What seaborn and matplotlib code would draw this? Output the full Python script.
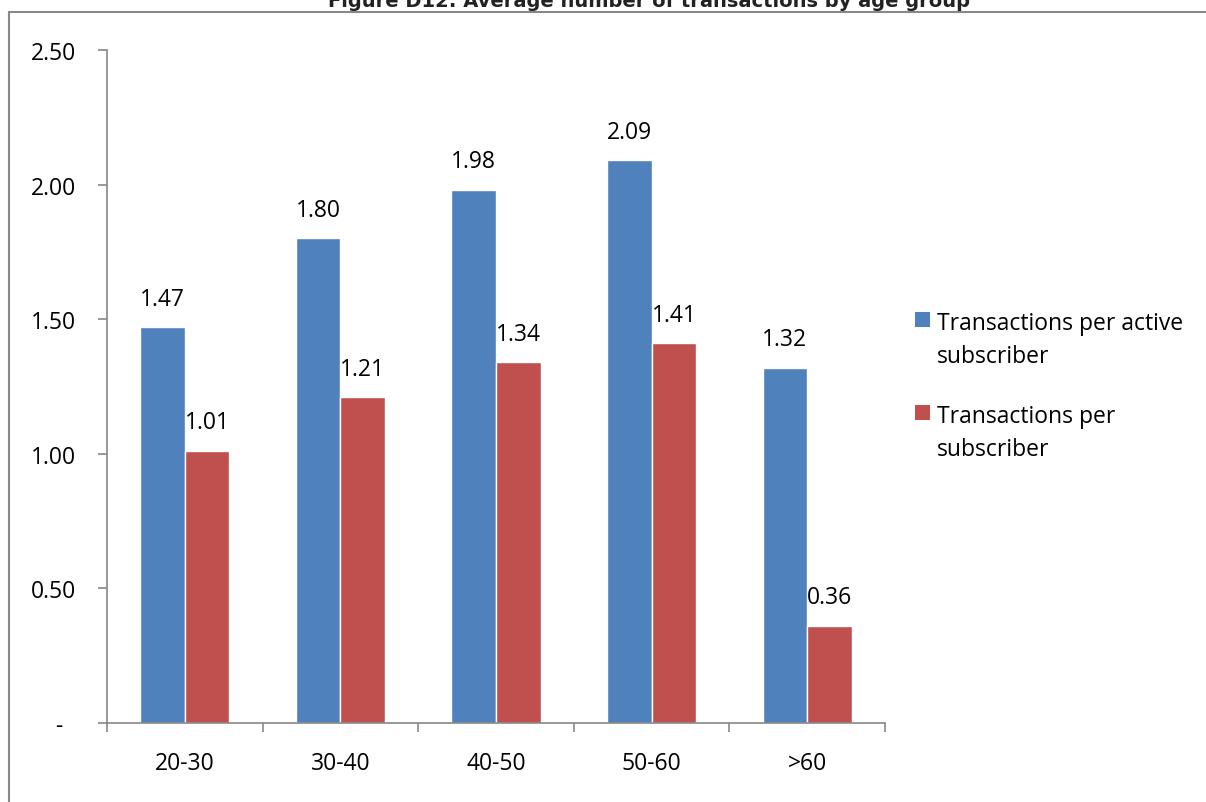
import matplotlib
matplotlib.use("Agg")
import matplotlib.pyplot as plt
from matplotlib.lines import Line2D
from matplotlib.patches import Rectangle
import seaborn as sns
import pandas as pd
import numpy as np

categories = ["20-30", "30-40", "40-50", "50-60", ">60"]
series_names = ["Transactions per active subscriber", "Transactions per subscriber"]
active_vals = [1.47, 1.80, 1.98, 2.09, 1.32]
subscriber_vals = [1.01, 1.21, 1.34, 1.41, 0.36]
legend_labels = ["Transactions per active\nsubscriber", "Transactions per\nsubscriber"]
ytick_vals = [0, 0.5, 1.0, 1.5, 2.0, 2.5]
ytick_labels = ["-  ", "0.50", "1.00", "1.50", "2.00", "2.50"]
title = "Figure D12: Average number of transactions by age group"
colors = ["#4F81BD", "#C0504D"]

df = pd.DataFrame({
    "age": categories * 2,
    "series": [series_names[0]] * 5 + [series_names[1]] * 5,
    "value": active_vals + subscriber_vals,
})

sns.set_theme(style="white")
plt.rcParams["font.family"] = ["Open Sans", "DejaVu Sans"]

FS = 16.5
W, H = 1206, 803
fig = plt.figure(figsize=(W / 100, H / 100), dpi=100)
ax = fig.add_axes([107 / W, 1 - 724 / H, (885 - 107) / W, (724 - 51) / H])

sns.barplot(data=df, x="age", y="value", hue="series", order=categories,
            hue_order=series_names, palette=colors, width=0.573, gap=0,
            saturation=1, ax=ax, legend=False, errorbar=None)

for c in ax.containers:
    ax.bar_label(c, fmt="%.2f", padding=12, fontsize=FS, color="#000000")

ax.set_xlim(-0.5, 4.5)
ax.set_ylim(0, 2.5)
ax.set_yticks(ytick_vals)
ax.set_yticklabels(ytick_labels, fontsize=FS, color="#000000")
ax.set_xticks(range(len(categories)))
ax.set_xticklabels(categories, fontsize=FS, color="#000000")
ax.set_xticks(np.arange(-0.5, 5, 1), minor=True)
ax.tick_params(axis="x", which="major", length=0, pad=20)
ax.tick_params(axis="x", which="minor", length=6.5, width=1.2, color="#888888",
               direction="out", bottom=True)
ax.tick_params(axis="y", which="major", length=6.5, width=1.2, color="#888888",
               direction="out", left=True, pad=16)
ax.set_xlabel("")
ax.set_ylabel("")
for s in ["top", "right"]:
    ax.spines[s].set_visible(False)
for s in ["left", "bottom"]:
    ax.spines[s].set_color("#888888")
    ax.spines[s].set_linewidth(1.2)

# frame lines
fig.add_artist(Line2D([8.5 / W, 1.0], [1 - 12.5 / H] * 2, color="#888888", lw=1.5,
                      transform=fig.transFigure))
fig.add_artist(Line2D([8.5 / W] * 2, [0, 1 - 12.5 / H], color="#888888", lw=1.5,
                      transform=fig.transFigure))

# title (partially cropped at the top, as in the reference)
fig.text(649 / W, 1 - 7 / H, title, ha="center", va="baseline", fontsize=14,
         fontweight="bold", color="#222222", family=["DejaVu Sans"])

# legend
leg_y = [320, 413]
for col, lab, y in zip(colors, legend_labels, leg_y):
    fig.add_artist(Rectangle((915 / W, 1 - (y + 7.5) / H), 15 / W, 15 / H,
                             facecolor=col, edgecolor="none", transform=fig.transFigure))
    fig.text(937 / W, 1 - (y - 8) / H, lab, ha="left", va="top", fontsize=FS,
             linespacing=1.5, color="#000000")

fig.savefig("out.png", dpi=100)
